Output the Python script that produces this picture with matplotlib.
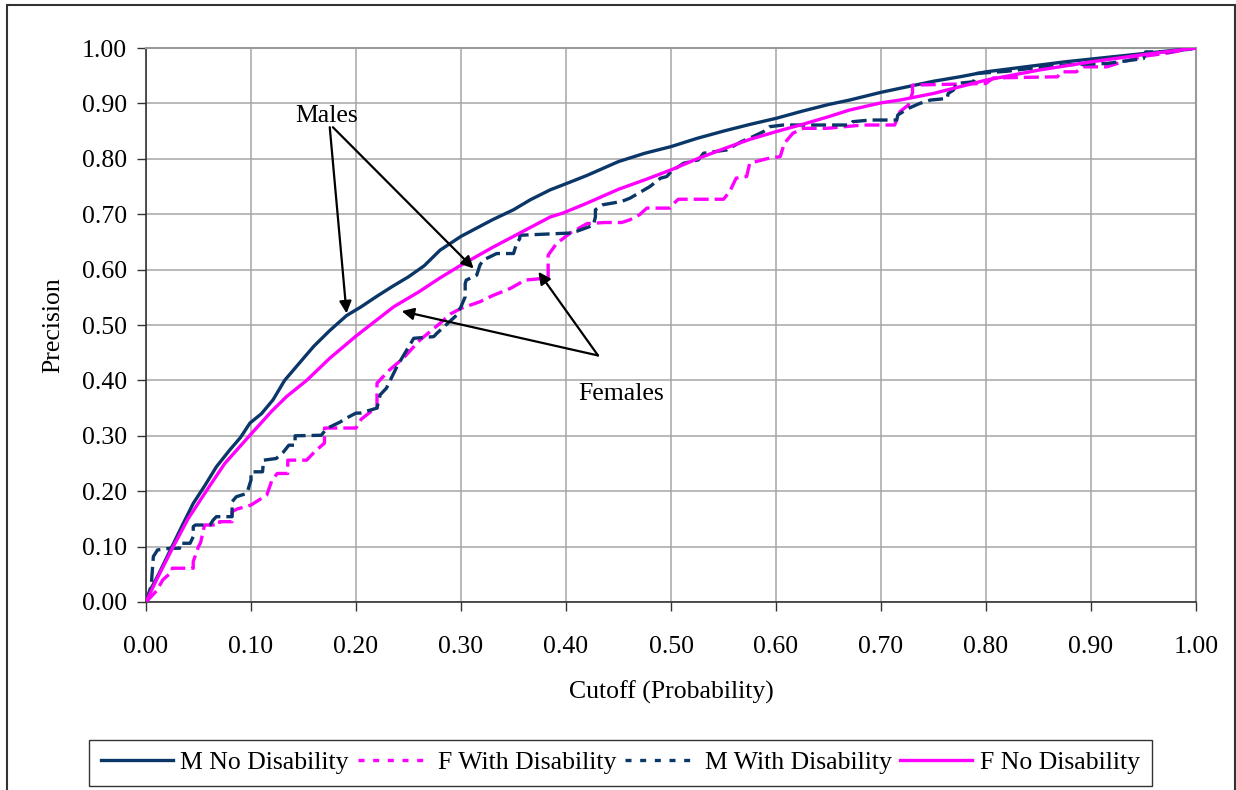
import matplotlib
matplotlib.use("Agg")
import matplotlib.pyplot as plt
from matplotlib.lines import Line2D
from matplotlib.patches import Rectangle

plt.rcParams['font.family'] = ['Liberation Serif', 'DejaVu Serif']

NAVY = '#0B3768'
PINK = '#FF00FF'

# ---- data ----
m_no_x = [0, 0.005, 0.012, 0.024, 0.035, 0.045, 0.056, 0.067, 0.08, 0.09, 0.099, 0.11, 0.121, 0.132,
          0.15, 0.16, 0.175, 0.191, 0.205, 0.22, 0.235, 0.25, 0.265, 0.28, 0.30, 0.315, 0.33, 0.35,
          0.366, 0.385, 0.40, 0.42, 0.45, 0.475, 0.50, 0.525, 0.55, 0.575, 0.60, 0.625, 0.65, 0.67,
          0.70, 0.725, 0.75, 0.775, 0.80, 0.825, 0.85, 0.875, 0.90, 0.925, 0.95, 0.975, 1.0]
m_no_y = [0, 0.025, 0.05, 0.097, 0.14, 0.178, 0.21, 0.244, 0.275, 0.297, 0.323, 0.34, 0.365, 0.40,
          0.44, 0.462, 0.49, 0.517, 0.533, 0.552, 0.57, 0.587, 0.607, 0.635, 0.66, 0.675, 0.69, 0.708,
          0.726, 0.744, 0.755, 0.77, 0.795, 0.81, 0.822, 0.837, 0.85, 0.862, 0.873, 0.886, 0.898, 0.906,
          0.92, 0.93, 0.94, 0.948, 0.957, 0.963, 0.969, 0.975, 0.98, 0.985, 0.99, 0.995, 1.0]

f_with_x = [0, 0.01, 0.016, 0.025, 0.025, 0.045, 0.045, 0.05, 0.052, 0.055, 0.056, 0.07, 0.07, 0.082,
            0.082, 0.087, 0.10, 0.115, 0.12, 0.125, 0.135, 0.135, 0.153, 0.16, 0.17, 0.17, 0.20, 0.205,
            0.215, 0.22, 0.22, 0.232, 0.245, 0.261, 0.28, 0.29, 0.30, 0.318, 0.33, 0.347, 0.361, 0.383,
            0.383, 0.391, 0.404, 0.42, 0.437, 0.453, 0.461, 0.47, 0.477, 0.499, 0.503, 0.507, 0.55, 0.556,
            0.562, 0.572, 0.575, 0.591, 0.604, 0.608, 0.616, 0.626, 0.648, 0.683, 0.713, 0.718, 0.726,
            0.73, 0.73, 0.80, 0.807, 0.868, 0.872, 0.886, 0.893, 0.915, 0.93, 0.95, 0.97, 1.0]
f_with_y = [0, 0.02, 0.04, 0.055, 0.061, 0.061, 0.073, 0.10, 0.107, 0.133, 0.139, 0.139, 0.145, 0.145,
            0.163, 0.168, 0.175, 0.193, 0.22, 0.232, 0.232, 0.256, 0.256, 0.27, 0.287, 0.314, 0.314, 0.33,
            0.345, 0.35, 0.395, 0.419, 0.44, 0.473, 0.503, 0.52, 0.53, 0.542, 0.553, 0.566, 0.581, 0.585,
            0.626, 0.647, 0.666, 0.683, 0.685, 0.685, 0.69, 0.699, 0.711, 0.711, 0.72, 0.727, 0.727, 0.741,
            0.765, 0.768, 0.792, 0.80, 0.804, 0.828, 0.846, 0.855, 0.855, 0.861, 0.861, 0.885, 0.897,
            0.919, 0.933, 0.936, 0.946, 0.948, 0.957, 0.957, 0.966, 0.966, 0.975, 0.985, 0.99, 1.0]

m_with_x = [0, 0.005, 0.007, 0.011, 0.023, 0.032, 0.032, 0.042, 0.045, 0.045, 0.047, 0.061, 0.064, 0.067,
            0.082, 0.082, 0.086, 0.096, 0.10, 0.10, 0.111, 0.112, 0.124, 0.131, 0.136, 0.142, 0.142, 0.167,
            0.172, 0.185, 0.191, 0.20, 0.204, 0.22, 0.223, 0.229, 0.239, 0.255, 0.274, 0.277, 0.296, 0.30,
            0.304, 0.304, 0.305, 0.315, 0.316, 0.318, 0.321, 0.334, 0.35, 0.353, 0.356, 0.356, 0.404, 0.41,
            0.426, 0.428, 0.428, 0.435, 0.453, 0.461, 0.48, 0.486, 0.49, 0.496, 0.50, 0.512, 0.526, 0.531,
            0.553, 0.567, 0.578, 0.588, 0.594, 0.607, 0.67, 0.673, 0.69, 0.715, 0.716, 0.726, 0.737, 0.747,
            0.763, 0.764, 0.769, 0.772, 0.788, 0.791, 0.82, 0.85, 0.88, 0.915, 0.95, 0.952, 0.975, 1.0]
m_with_y = [0, 0.03, 0.082, 0.094, 0.097, 0.097, 0.106, 0.106, 0.118, 0.136, 0.139, 0.139, 0.148, 0.154,
            0.154, 0.181, 0.19, 0.196, 0.22, 0.235, 0.235, 0.256, 0.259, 0.271, 0.283, 0.283, 0.30, 0.301,
            0.313, 0.325, 0.332, 0.341, 0.341, 0.35, 0.374, 0.386, 0.425, 0.476, 0.479, 0.485, 0.518, 0.533,
            0.551, 0.575, 0.581, 0.59, 0.596, 0.608, 0.617, 0.629, 0.629, 0.647, 0.656, 0.662, 0.666, 0.669,
            0.68, 0.695, 0.708, 0.717, 0.723, 0.729, 0.75, 0.759, 0.765, 0.768, 0.777, 0.792, 0.798, 0.81,
            0.816, 0.831, 0.84, 0.849, 0.858, 0.861, 0.861, 0.867, 0.87, 0.87, 0.879, 0.891, 0.90, 0.906,
            0.909, 0.918, 0.924, 0.936, 0.939, 0.954, 0.958, 0.965, 0.97, 0.972, 0.981, 0.993, 0.993, 1.0]

f_no_x = [0, 0.01, 0.026, 0.04, 0.058, 0.075, 0.099, 0.12, 0.134, 0.153, 0.175, 0.20, 0.236, 0.26, 0.28,
          0.30, 0.33, 0.36, 0.385, 0.397, 0.42, 0.45, 0.475, 0.50, 0.525, 0.55, 0.575, 0.60, 0.625, 0.65,
          0.67, 0.70, 0.718, 0.75, 0.80, 0.85, 0.90, 0.95, 1.0]
f_no_y = [0, 0.04, 0.10, 0.15, 0.202, 0.25, 0.301, 0.345, 0.371, 0.40, 0.44, 0.48, 0.533, 0.56, 0.585,
          0.608, 0.64, 0.67, 0.695, 0.702, 0.72, 0.745, 0.762, 0.78, 0.80, 0.818, 0.835, 0.849, 0.862, 0.876,
          0.888, 0.901, 0.906, 0.918, 0.942, 0.96, 0.975, 0.988, 1.0]

series_names = ['M No Disability', 'F With Disability', 'M With Disability', 'F No Disability']
ticks = [i / 10 for i in range(11)]
tick_labels = ['%.2f' % t for t in ticks]

FS = 18.5

fig = plt.figure(figsize=(12.36, 7.9), dpi=100)
ax = fig.add_axes([146 / 1236, 188 / 790, 1050 / 1236, 554 / 790])

lw = 2.4
dash = (0, (4.5, 1.8))
ax.plot(m_no_x, m_no_y, color=NAVY, lw=lw, zorder=3)
ax.plot(f_with_x, f_with_y, color=PINK, lw=lw, linestyle=dash, zorder=3)
ax.plot(m_with_x, m_with_y, color=NAVY, lw=lw, linestyle=dash, zorder=3)
ax.plot(f_no_x, f_no_y, color=PINK, lw=lw, zorder=3)

ax.set_xlim(0, 1)
ax.set_ylim(0, 1)
ax.set_xticks(ticks)
ax.set_xticklabels(tick_labels)
ax.set_yticks(ticks)
ax.set_yticklabels(tick_labels)
ax.grid(True, color='#A6A6A6', lw=1.1, zorder=0)
ax.tick_params(axis='both', direction='out', length=6.5, width=1.0, labelsize=FS, color='#333333')
ax.tick_params(axis='x', pad=18)
ax.tick_params(axis='y', pad=7)
for s in ['left', 'bottom']:
    ax.spines[s].set_color('#333333')
    ax.spines[s].set_linewidth(1.2)
for s in ['top', 'right']:
    ax.spines[s].set_color('#9A9A9A')
    ax.spines[s].set_linewidth(1.5)

ax.set_xlabel('Cutoff (Probability)', fontsize=FS, labelpad=16)
ax.set_ylabel('Precision', fontsize=FS, labelpad=13)

# annotations
arrow = dict(arrowstyle='-|>', color='black', lw=1.6, mutation_scale=18, shrinkA=0, shrinkB=0)
ax.text(0.172, 0.877, 'Males', fontsize=FS, ha='center', va='center')
ax.annotate('', xy=(0.191, 0.521), xytext=(0.175, 0.857), arrowprops=arrow)
ax.annotate('', xy=(0.312, 0.602), xytext=(0.178, 0.857), arrowprops=arrow)
ax.text(0.453, 0.375, 'Females', fontsize=FS, ha='center', va='center')
ax.annotate('', xy=(0.2435, 0.525), xytext=(0.4305, 0.445), arrowprops=arrow)
ax.annotate('', xy=(0.3737, 0.596), xytext=(0.4305, 0.445), arrowprops=arrow)

# legend
handles = [
    Line2D([], [], color=NAVY, lw=lw),
    Line2D([], [], color=PINK, lw=lw, linestyle=(0, (1.8, 2.6))),
    Line2D([], [], color=NAVY, lw=lw, linestyle=(0, (1.8, 2.6))),
    Line2D([], [], color=PINK, lw=lw),
]
leg = fig.legend(handles, series_names, loc='center', bbox_to_anchor=(0.502, 0.0342), ncol=4,
                 fontsize=FS, frameon=True, fancybox=False, edgecolor='black', handlelength=2.8,
                 handletextpad=0.3, columnspacing=0.35, borderpad=0.45, borderaxespad=0)
leg.get_frame().set_linewidth(1.0)

fig.patches.append(Rectangle((7 / 1236, -0.05), 1228 / 1236, (785 / 790) + 0.05,
                             transform=fig.transFigure, fill=False, edgecolor='#333333', lw=1.5))

fig.savefig('out.png', dpi=100)
